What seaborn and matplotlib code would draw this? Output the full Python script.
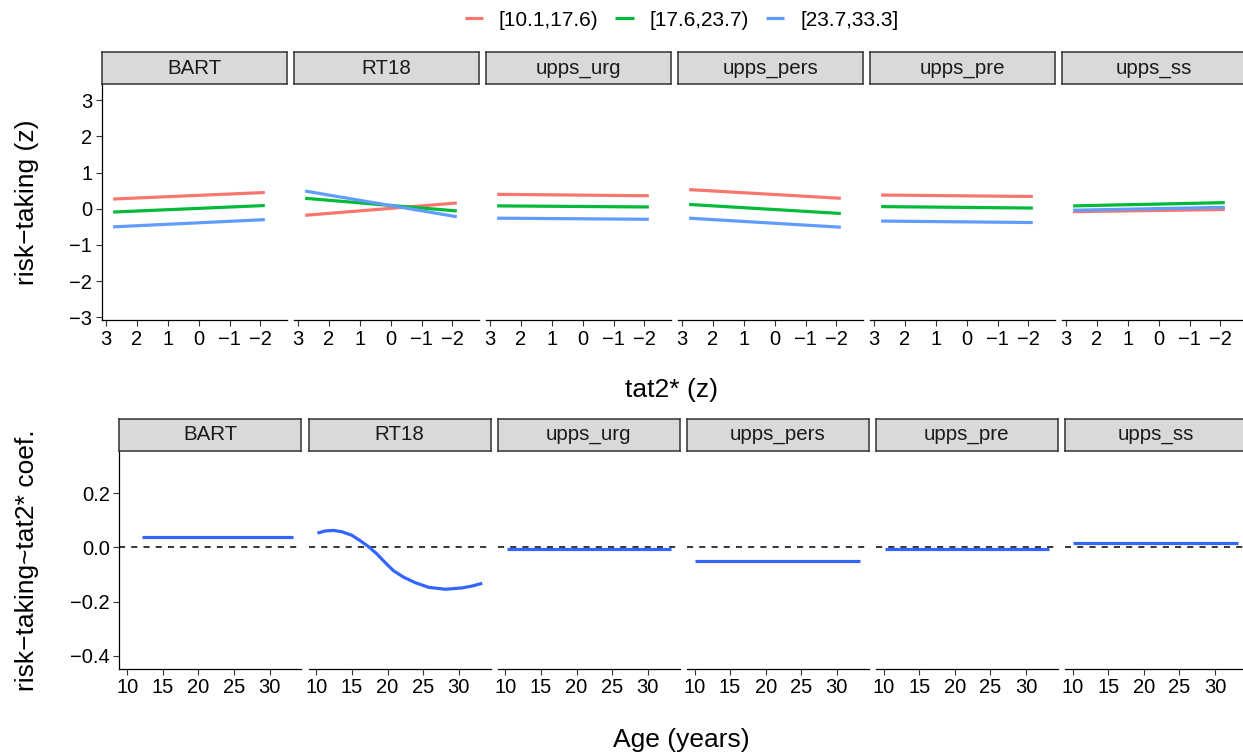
import numpy as np
import pandas as pd
import matplotlib
matplotlib.use("Agg")
import matplotlib.pyplot as plt
from matplotlib.lines import Line2D
import seaborn as sns

# ---- data -------------------------------------------------------------
measures = ["BART", "RT18", "upps_urg", "upps_pers", "upps_pre", "upps_ss"]
age_groups = ["[10.1,17.6)", "[17.6,23.7)", "[23.7,33.3]"]
group_colors = ["#F8766D", "#00BA38", "#619CFF"]

# predicted risk-taking (z) at the two ends of the tat2* (z) range
tat2_ends = [2.76, -2.14]
risk_start = {
    "BART":      [0.27, -0.09, -0.50],
    "RT18":      [-0.18, 0.29, 0.49],
    "upps_urg":  [0.40, 0.08, -0.26],
    "upps_pers": [0.53, 0.12, -0.26],
    "upps_pre":  [0.38, 0.06, -0.34],
    "upps_ss":   [-0.08, 0.08, -0.04],
}
risk_end = {
    "BART":      [0.45, 0.09, -0.30],
    "RT18":      [0.16, -0.06, -0.22],
    "upps_urg":  [0.36, 0.05, -0.29],
    "upps_pers": [0.29, -0.13, -0.51],
    "upps_pre":  [0.34, 0.02, -0.38],
    "upps_ss":   [-0.02, 0.17, 0.04],
}

# age-varying risk-taking ~ tat2* coefficient
coef_age = {
    "BART":      [12.1, 33.3],
    "RT18":      [10.15, 11.24, 12.41, 13.59, 15.0, 16.17, 17.34, 18.52,
                  19.69, 20.86, 22.3, 23.92, 25.79, 28.14, 30.49, 31.9,
                  33.31],
    "upps_urg":  [10.2, 33.3],
    "upps_pers": [10.1, 33.3],
    "upps_pre":  [10.2, 33.3],
    "upps_ss":   [10.1, 33.2],
}
coef_val = {
    "BART":      [0.040, 0.040],
    "RT18":      [0.053, 0.061, 0.063, 0.058, 0.045, 0.025, 0.003, -0.024,
                  -0.056, -0.086, -0.110, -0.130, -0.147, -0.154, -0.149,
                  -0.142, -0.132],
    "upps_urg":  [-0.007, -0.007],
    "upps_pers": [-0.051, -0.051],
    "upps_pre":  [-0.007, -0.007],
    "upps_ss":   [0.015, 0.015],
}

top_yticks = [3, 2, 1, 0, -1, -2, -3]
top_xticks = [3, 2, 1, 0, -1, -2]
bot_yticks = [0.2, 0.0, -0.2, -0.4]
bot_yticklabels = ["0.2", "0.0", "\u22120.2", "\u22120.4"]
bot_xticks = [10, 15, 20, 25, 30]

# ---- long tables --------------------------------------------------------
rows = []
for m in measures:
    for g, a0, a1 in zip(age_groups, risk_start[m], risk_end[m]):
        rows.append((m, g, tat2_ends[0], a0))
        rows.append((m, g, tat2_ends[1], a1))
top_df = pd.DataFrame(rows, columns=["measure", "age_group", "tat2", "risk"])

rows = []
for m in measures:
    for a, c in zip(coef_age[m], coef_val[m]):
        rows.append((m, a, c))
bot_df = pd.DataFrame(rows, columns=["measure", "age", "coef"])

# ---- styling ------------------------------------------------------------
sns.set_style("white")
plt.rcParams["font.family"] = ["Liberation Sans", "DejaVu Sans"]
plt.rcParams["axes.unicode_minus"] = True
plt.rcParams["text.color"] = "black"
plt.rcParams["lines.solid_joinstyle"] = "round"
plt.rcParams["lines.solid_capstyle"] = "butt"

W, H = 1243, 753
fig = plt.figure(figsize=(W / 100, H / 100), dpi=100)
fig.patch.set_facecolor("white")

TICK_FS = 14.5
STRIP_FS = 14.8
TITLE_FS = 19


def px_axes(x0, y0, x1, y1):
    """Axes from pixel box (top-left origin)."""
    return fig.add_axes([x0 / W, 1 - y1 / H, (x1 - x0) / W, (y1 - y0) / H])


def strip(x0, y0, x1, y1, label):
    sa = px_axes(x0, y0, x1, y1)
    sa.set_facecolor("#D9D9D9")
    for sp in sa.spines.values():
        sp.set_visible(True)
        sp.set_color("#333333")
        sp.set_linewidth(1.1)
    sa.set_xticks([])
    sa.set_yticks([])
    sa.text(0.5, 0.5, label, ha="center", va="center", fontsize=STRIP_FS,
            color="#1a1a1a", transform=sa.transAxes)
    return sa


def style_axis(ax, first):
    for side in ["top", "right"]:
        ax.spines[side].set_visible(False)
    ax.spines["bottom"].set_color("black")
    ax.spines["bottom"].set_linewidth(0.9)
    ax.spines["left"].set_visible(first)
    ax.spines["left"].set_color("black")
    ax.spines["left"].set_linewidth(0.9)
    ax.tick_params(axis="x", length=4, width=0.8, color="#333333",
                   labelsize=TICK_FS, labelcolor="black", pad=3, bottom=True)
    if first:
        ax.tick_params(axis="y", length=4, width=0.8, color="#333333",
                       labelsize=TICK_FS, labelcolor="black", pad=3, left=True)
    else:
        ax.tick_params(axis="y", left=False, labelleft=False)
    ax.set_xlabel("")
    ax.set_ylabel("")
    ax.set_facecolor("white")
    ax.grid(False)


pal = dict(zip(age_groups, group_colors))

# ---- top row ------------------------------------------------------------
top_x0, top_step, top_w = 102, 192.0, 184.5
for i, m in enumerate(measures):
    x0 = top_x0 + i * top_step
    ax = px_axes(x0, 84, x0 + top_w, 320)
    sub = top_df[top_df["measure"] == m]
    sns.lineplot(data=sub, x="tat2", y="risk", hue="age_group",
                 hue_order=age_groups, palette=pal, estimator=None,
                 linewidth=2.3, legend=False, ax=ax)
    ax.set_xlim(3.12, -2.84)
    ax.set_ylim(-3.075, 3.45)
    ax.set_xticks(top_xticks)
    ax.set_yticks(top_yticks)
    style_axis(ax, i == 0)
    strip(x0, 52, x0 + top_w, 84, m)

# ---- bottom row ---------------------------------------------------------
bot_x0, bot_step, bot_w = 119.4, 189.1, 182
for i, m in enumerate(measures):
    x0 = bot_x0 + i * bot_step
    ax = px_axes(x0, 450.7, x0 + bot_w, 668.7)
    ax.axhline(0, color="black", linewidth=1.1, linestyle=(0, (4, 4)),
               zorder=1)
    sub = bot_df[bot_df["measure"] == m]
    sns.lineplot(data=sub, x="age", y="coef", color="#3366FF",
                 estimator=None, linewidth=2.3, ax=ax, zorder=2)
    ax.set_xlim(8.9, 34.47)
    ax.set_ylim(-0.447, 0.357)
    ax.set_xticks(bot_xticks)
    ax.set_yticks(bot_yticks)
    if i == 0:
        ax.set_yticklabels(bot_yticklabels)
    style_axis(ax, i == 0)
    strip(x0, 419.3, x0 + bot_w, 450.7, m)

# ---- axis titles --------------------------------------------------------
fig.text(672 / W, 1 - 390 / H, "tat2* (z)", ha="center", va="center",
         fontsize=TITLE_FS, color="black")
fig.text(681 / W, 1 - 740 / H, "Age (years)", ha="center", va="center",
         fontsize=TITLE_FS, color="black")
fig.text(27 / W, 1 - 202 / H, "risk\u2212taking (z)", ha="center",
         va="center", rotation=90, fontsize=TITLE_FS, color="black")
fig.text(27 / W, 1 - 560 / H, "risk\u2212taking~tat2* coef.", ha="center",
         va="center", rotation=90, fontsize=TITLE_FS, color="black")

# ---- legend -------------------------------------------------------------
handles = [Line2D([0], [0], color=c, linewidth=2.3) for c in group_colors]
leg = fig.legend(handles, age_groups, loc="center", ncol=3,
                 bbox_to_anchor=(681.5 / W, 1 - 20 / H), frameon=False,
                 fontsize=15, handlelength=0.87, handletextpad=0.77,
                 columnspacing=0.82, borderaxespad=0, borderpad=0)
for t in leg.get_texts():
    t.set_color("black")

fig.savefig("out.png", dpi=100, facecolor="white")
